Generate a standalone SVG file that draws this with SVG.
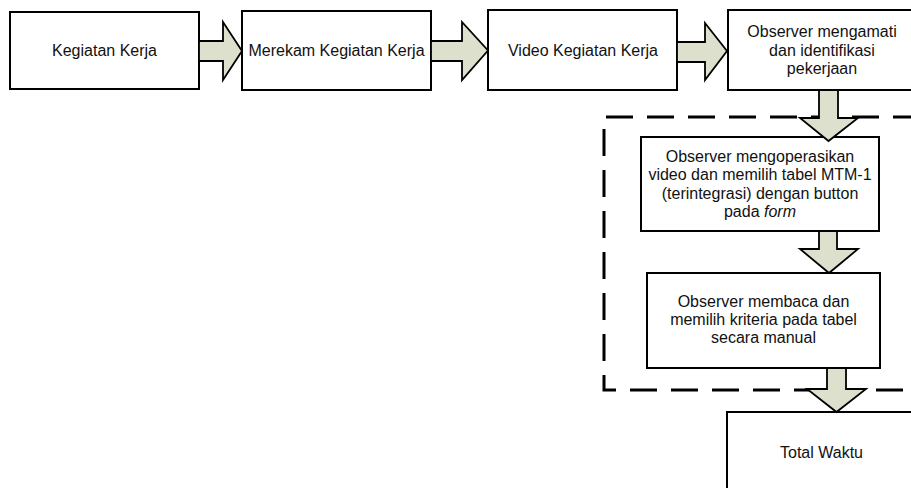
<svg xmlns="http://www.w3.org/2000/svg" width="911" height="488" viewBox="0 0 911 488">
<style>
.box{fill:#fff;stroke:#000;stroke-width:2}
.arr{fill:#dde0cc;stroke:#000;stroke-width:1.8;stroke-linejoin:miter}
.dash{fill:none;stroke:#000;stroke-width:3;stroke-dasharray:27 14}
text{font-family:"Liberation Sans",Arial,sans-serif;font-size:16px;fill:#111;text-anchor:middle}
</style>
<rect width="911" height="488" fill="#fff"/>
<g id="group-boundary">
<path class="dash" d="M920 117 H604 V390 H920"/>
</g>
<g id="n1"><rect class="box" x="10" y="12" width="189" height="77"/><text x="104.5" y="56">Kegiatan Kerja</text></g>
<g id="n2"><rect class="box" x="242" y="11" width="189" height="79"/><text x="336.5" y="56">Merekam Kegiatan Kerja</text></g>
<g id="n3"><rect class="box" x="488" y="10" width="189" height="80"/><text x="583" y="56">Video Kegiatan Kerja</text></g>
<g id="n4"><rect class="box" x="728" y="10" width="189" height="80"/><text x="822"><tspan x="822" y="37">Observer mengamati</tspan><tspan x="822" y="55.5">dan identifikasi</tspan><tspan x="822" y="74">pekerjaan</tspan></text></g>
<g id="n5"><rect class="box" x="641" y="137" width="238" height="94"/><text><tspan x="760" y="161.5">Observer mengoperasikan</tspan><tspan x="760" y="180">video dan memilih tabel MTM-1</tspan><tspan x="760" y="198.5">(terintegrasi) dengan button</tspan><tspan x="760" y="217">pada <tspan font-style="italic">form</tspan></tspan></text></g>
<g id="n6"><rect class="box" x="647" y="273" width="233" height="95"/><text><tspan x="763.5" y="307">Observer membaca dan</tspan><tspan x="763.5" y="325">memilih kriteria pada tabel</tspan><tspan x="763.5" y="343">secara manual</tspan></text></g>
<g id="n7"><rect class="box" x="727" y="412" width="190" height="90"/><text x="821.5" y="458">Total Waktu</text></g>
<g id="connectors">
<path class="arr" d="M199 41 H223 V22 L242 51 L223 80 V61 H199 Z"/>
<path class="arr" d="M431 41 H462 V22 L488 50.5 L462 80 V61 H431 Z"/>
<path class="arr" d="M677 42 H705 V23 L727 51 L705 80 V62 H677 Z"/>
<path class="arr" d="M819 90 V118 H800 L828.5 141 L858 118 H838 V90 Z"/>
<path class="arr" d="M819 231 V249 H800 L829 273 L858 249 H837 V231 Z"/>
<path class="arr" d="M827 368 V389 H807 L836.5 412 L866 389 H846 V368 Z"/>
</g>
</svg>
